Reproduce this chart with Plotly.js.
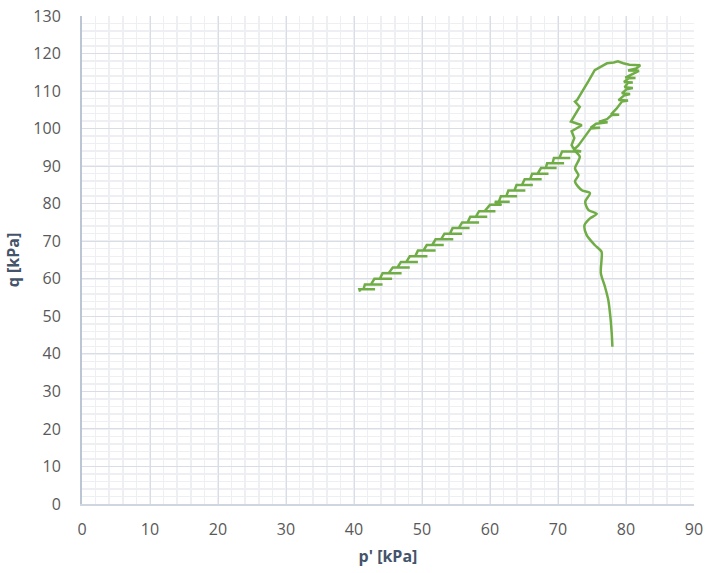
<!DOCTYPE html>
<html>
<head>
<meta charset="utf-8">
<script src="https://cdn.plot.ly/plotly-3.0.1.min.js"></script>
<style>html,body{margin:0;padding:0;background:#fff;}#chart{width:707px;height:573px;}</style>
</head>
<body>
<div id="chart"></div>
<script>
// Lower branch (start of shearing, going up)
const lowerP = [78.0,77.9,77.7,77.4,76.9,76.3,76.4,76.4,75.4,74.2,73.9,74.7,75.7,74.5,74.0,74.7,73.5,72.5,73.0,72.5,73.2,72.3];
const lowerQ = [41.9,45.5,49.9,54.3,57.9,61.5,65.0,67.2,69.0,71.7,74.3,76.1,77.3,78.3,80.5,82.8,83.6,85.9,87.6,89.4,92.5,94.3];
// Right side of the loop, going up
const loopRightP = [72.3,73.0,73.6,74.3,74.8,76.2,74.8,75.6,77.3,76.0,77.2,77.9,79.0,77.8,78.6,79.4,80.3,78.9,79.7,80.6,79.4,80.1,81.0,79.8,80.3,81.0,79.7,80.4,81.4,79.9,81.0,81.9,80.3,81.5,82.1];
const loopRightQ = [94.3,95.5,97.0,98.8,100.0,100.2,100.2,101.3,101.7,101.8,102.5,103.6,103.7,103.8,105.3,107.2,107.5,107.6,108.8,109.2,109.4,110.5,110.8,111.0,112.2,112.3,112.4,113.4,113.5,113.6,114.5,115.4,115.5,116.0,116.9];
// Top of the loop, going left
const loopTopP = [80.5,79.6,78.8,78.2,77.2,76.4,75.4];
const loopTopQ = [117.0,117.4,117.9,117.6,117.4,116.6,115.6];
// Left side of the loop, going down
const loopLeftP = [74.5,73.6,72.8,72.5,73.2,72.6,71.9,73.5,72.0,72.4,72.0,72.4];
const loopLeftQ = [112.7,110.0,107.6,107.2,105.8,104.0,101.9,100.9,99.3,97.5,95.6,94.3];
// Long diagonal, going down (cyclic spurs along the path)
const diagP = [73.4,70.6, 70.2,71.8,69.4, 69.2,70.9,68.4, 68.2,69.8,67.5, 67.0,68.6,66.2, 65.9,67.6,65.1, 64.7,66.3,63.9, 63.6,65.2,62.7, 62.4,64.0,61.6, 61.3,62.9,60.7, 61.7,60.0, 59.2,60.8,58.4, 57.9,59.6,57.1, 56.7,58.4,55.9, 55.4,57.0,54.5, 54.1,55.9,53.3, 52.8,54.6,52.0, 51.5,53.2,50.7, 50.2,52.0,49.4, 49.0,50.8,48.2, 47.7,49.4,46.9, 46.4,48.2,45.7, 45.1,47.0,44.2, 43.8,45.6,43.0, 42.5,44.2,41.6, 41.4,43.1,40.8, 40.9];
const diagQ = [93.9,93.9, 92.2,92.2,92.2, 90.8,90.8,90.8, 89.5,89.5,89.5, 88.0,88.0,88.0, 86.5,86.5,86.5, 85.0,85.0,85.0, 83.5,83.5,83.5, 82.0,82.0,82.0, 80.5,80.5,80.5, 79.7,79.7, 78.0,78.0,78.0, 76.5,76.5,76.5, 75.0,75.0,75.0, 73.5,73.5,73.5, 72.0,72.0,72.0, 70.5,70.5,70.5, 69.0,69.0,69.0, 67.5,67.5,67.5, 66.0,66.0,66.0, 64.5,64.5,64.5, 63.0,63.0,63.0, 61.5,61.5,61.5, 60.0,60.0,60.0, 58.5,58.5,58.5, 57.2,57.2,57.2, 56.6];

const xTicks = [0,10,20,30,40,50,60,70,80,90];
const yTicks = [0,10,20,30,40,50,60,70,80,90,100,110,120,130];

const lineStyle = {color: '#70AD47', width: 2.5};

const lowerTrace = {
  x: lowerP, y: lowerQ, type: 'scatter', mode: 'lines',
  line: Object.assign({shape: 'spline', smoothing: 0.8}, lineStyle),
  hoverinfo: 'skip', showlegend: false
};
const restTrace = {
  x: [].concat(loopRightP, loopTopP, loopLeftP, diagP),
  y: [].concat(loopRightQ, loopTopQ, loopLeftQ, diagQ),
  type: 'scatter', mode: 'lines',
  line: lineStyle,
  hoverinfo: 'skip', showlegend: false
};

const tickFont = {family: 'Open Sans, Noto Sans, sans-serif', size: 16, color: '#595959'};
const titleFont = {family: 'Open Sans, Noto Sans, sans-serif', size: 16, color: '#44546A', weight: 'bold'};

const layout = {
  width: 707, height: 573,
  paper_bgcolor: '#ffffff', plot_bgcolor: '#ffffff',
  margin: {l: 82, r: 13, t: 16, b: 69},
  showlegend: false,
  xaxis: {
    range: [0, 90], tickvals: xTicks, ticktext: xTicks.map(String),
    showgrid: true, gridcolor: '#D9DDE5', gridwidth: 1,
    minor: {dtick: 2, showgrid: true, gridcolor: '#EDEFF3', gridwidth: 1.5},
    zeroline: false, showline: true, linecolor: '#D0D6E0', linewidth: 1.5,
    ticks: 'outside', ticklen: 10, tickcolor: 'rgba(0,0,0,0)',
    tickfont: tickFont,
    title: {text: "<b>p' [kPa]</b>", font: titleFont, standoff: 12}
  },
  yaxis: {
    range: [0, 130], tickvals: yTicks, ticktext: yTicks.map(String),
    showgrid: true, gridcolor: '#D9DDE5', gridwidth: 1,
    minor: {dtick: 2, showgrid: true, gridcolor: '#EDEFF3', gridwidth: 1.5},
    zeroline: false, showline: true, linecolor: '#BCC5D3', linewidth: 2,
    ticks: 'outside', ticklen: 16, tickcolor: 'rgba(0,0,0,0)',
    tickfont: tickFont,
    title: {text: '<b>q [kPa]</b>', font: titleFont, standoff: 10}
  }
};

Plotly.newPlot('chart', [lowerTrace, restTrace], layout, {staticPlot: true, displayModeBar: false});
</script>
</body>
</html>
